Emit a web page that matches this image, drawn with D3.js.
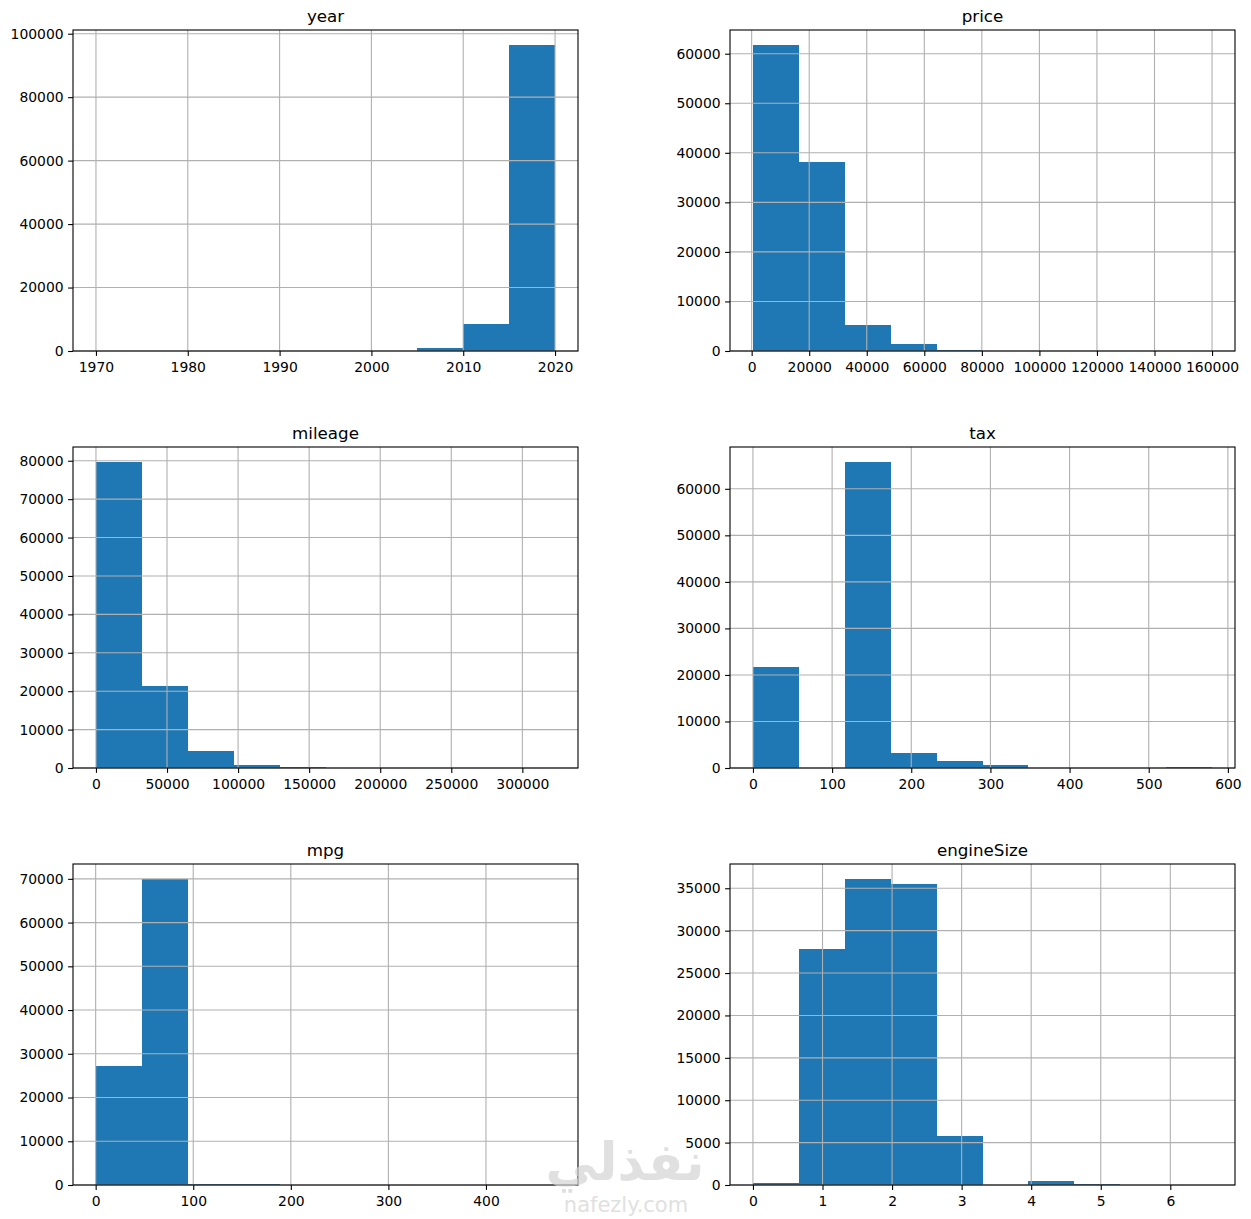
<!DOCTYPE html>
<html>
<head>
<meta charset="utf-8">
<script src="https://cdn.jsdelivr.net/npm/d3@7"></script>
<style>
  body { margin: 0; background: #fff; }
  svg { display: block; font-family: "DejaVu Sans", sans-serif; }
</style>
</head>
<body>
<svg id="chart"></svg>
<script>
// column names, value ranges and bin counts (10 bins each)
var columns = ["year", "price", "mileage", "tax", "mpg", "engineSize"];
var ranges = [[1970, 2020], [450, 159999], [1, 323000], [0, 580], [0.3, 470.8], [0, 6.6]];
var yearCounts = [2, 0, 0, 0, 0, 10, 150, 950, 8600, 96350];
var priceCounts = [61700, 38050, 5250, 1350, 270, 60, 20, 8, 3, 2];
var mileageCounts = [79600, 21450, 4520, 870, 180, 40, 12, 5, 2, 1];
var taxCounts = [21800, 40, 65700, 3150, 1580, 720, 60, 20, 10, 290];
var mpgCounts = [27300, 69900, 240, 180, 10, 5, 3, 2, 1, 30];
var engineCounts = [240, 27870, 36060, 35550, 5790, 15, 470, 120, 10, 5];
var counts = [yearCounts, priceCounts, mileageCounts, taxCounts, mpgCounts, engineCounts];

// tick labels
var xTicks = [
    [1970, 1980, 1990, 2000, 2010, 2020],
    [0, 20000, 40000, 60000, 80000, 100000, 120000, 140000, 160000],
    [0, 50000, 100000, 150000, 200000, 250000, 300000],
    [0, 100, 200, 300, 400, 500, 600],
    [0, 100, 200, 300, 400],
    [0, 1, 2, 3, 4, 5, 6]
];
var yTicks = [
    [0, 20000, 40000, 60000, 80000, 100000],
    [0, 10000, 20000, 30000, 40000, 50000, 60000],
    [0, 10000, 20000, 30000, 40000, 50000, 60000, 70000, 80000],
    [0, 10000, 20000, 30000, 40000, 50000, 60000],
    [0, 10000, 20000, 30000, 40000, 50000, 60000, 70000],
    [0, 5000, 10000, 15000, 20000, 25000, 30000, 35000]
];

var width = 1251, height = 1219;
var axW = 505, axH = 321;
var colX = [73, 730];
var rowY = [30, 447, 864];

var svg = d3.select("#chart").attr("width", width).attr("height", height);

columns.forEach(function(name, i) {
    var x0 = colX[i % 2], y0 = rowY[Math.floor(i / 2)];
    var lo = ranges[i][0], hi = ranges[i][1];
    var step = (hi - lo) / counts[i].length;
    var bins = counts[i].map(function(c, k) {
        return {x0: lo + k * step, x1: lo + (k + 1) * step, n: c};
    });
    var pad = (hi - lo) * 0.05;

    var x = d3.scaleLinear().domain([lo - pad, hi + pad]).range([0, axW]);
    var y = d3.scaleLinear().domain([0, d3.max(counts[i]) * 1.05]).range([axH, 0]);

    var g = svg.append("g").attr("transform", "translate(" + x0 + "," + y0 + ")");

    // bars (crisp so neighbours don't leave a seam)
    g.selectAll("rect.bar")
        .data(bins)
        .enter().append("rect")
        .attr("class", "bar")
        .attr("x", function(d) { return Math.round(x(d.x0)); })
        .attr("width", function(d) { return Math.round(x(d.x1)) - Math.round(x(d.x0)); })
        .attr("y", function(d) { return y(d.n); })
        .attr("height", function(d) { return axH - y(d.n); })
        .attr("fill", "#1f77b4")
        .attr("shape-rendering", "crispEdges");

    // grid on top of the bars, like pandas hist
    g.append("g").selectAll("line")
        .data(xTicks[i])
        .enter().append("line")
        .attr("x1", function(d) { return x(d); })
        .attr("x2", function(d) { return x(d); })
        .attr("y1", 0).attr("y2", axH)
        .attr("stroke", "#b0b0b0").attr("stroke-width", 1.1);
    g.append("g").selectAll("line")
        .data(yTicks[i])
        .enter().append("line")
        .attr("y1", function(d) { return y(d); })
        .attr("y2", function(d) { return y(d); })
        .attr("x1", 0).attr("x2", axW)
        .attr("stroke", "#b0b0b0").attr("stroke-width", 1.1);

    // axes
    var xAxis = d3.axisBottom(x).tickValues(xTicks[i]).tickFormat(d3.format("d"))
        .tickSizeInner(4.9).tickSizeOuter(0).tickPadding(6);
    var yAxis = d3.axisLeft(y).tickValues(yTicks[i]).tickFormat(d3.format("d"))
        .tickSizeInner(4.9).tickSizeOuter(0).tickPadding(4.5);

    var gx = g.append("g").attr("transform", "translate(0," + axH + ")").call(xAxis);
    var gy = g.append("g").call(yAxis);
    [gx, gy].forEach(function(a) {
        a.select(".domain").remove();
        a.selectAll(".tick line").attr("stroke", "#000").attr("stroke-width", 1.1);
        a.selectAll(".tick text").attr("fill", "#000")
            .style("font-size", "13.9px").style("font-family", "DejaVu Sans");
    });

    // frame
    g.append("rect")
        .attr("width", axW).attr("height", axH)
        .attr("fill", "none").attr("stroke", "#000").attr("stroke-width", 1.1);

    // title
    g.append("text")
        .attr("x", axW / 2).attr("y", -8.3)
        .attr("text-anchor", "middle")
        .style("font-size", "16.7px")
        .attr("fill", "#000")
        .text(name);
});

// faint site watermark at the bottom
svg.append("text")
    .attr("x", 625).attr("y", 1180)
    .attr("text-anchor", "middle")
    .style("font-size", "52px").style("font-weight", "bold")
    .attr("fill", "#d4d4d4").attr("opacity", 0.7)
    .text("نفذلي");
svg.append("text")
    .attr("x", 626).attr("y", 1212)
    .attr("text-anchor", "middle")
    .style("font-size", "21px")
    .attr("fill", "#d4d4d4").attr("opacity", 0.7)
    .text("nafezly.com");
</script>
</body>
</html>
